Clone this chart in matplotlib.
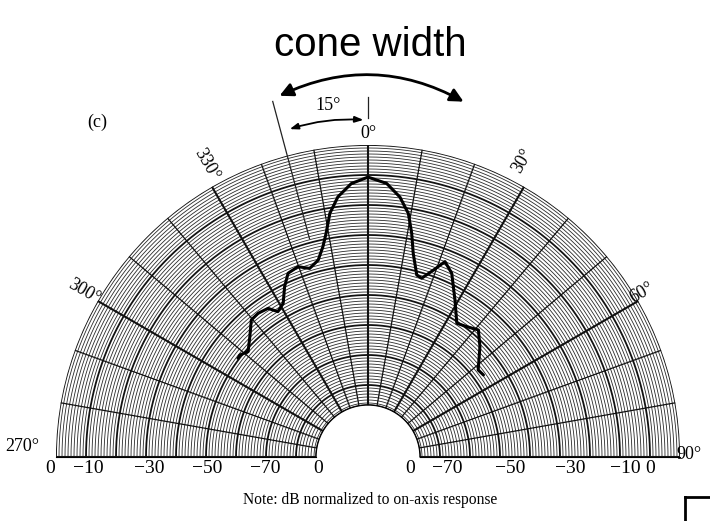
import numpy as np
import matplotlib
matplotlib.use("Agg")
import matplotlib.pyplot as plt
from matplotlib.lines import Line2D
from matplotlib.patches import FancyArrowPatch

# ---------------- data ----------------
# polar response (angle in degrees, level in dB normalized to on-axis)
angle_deg = [-52.8, -51.5, -48.7, -44.5, -40.4, -37.4, -33.9, -31.8, -28.9, -26.1,
             -23.5, -20.2, -17.2, -14.2, -12.1, -10.6, -8.9, -6.6, -3.5, 0.0,
             3.9, 7.0, 9.4, 11.05, 12.5, 15.0, 16.7, 19.3, 21.5, 24.5,
             29.0, 33.6, 37.1, 41.0, 45.4, 51.7, 54.6]
level_db = [-49.6, -49.4, -50.8, -47.8, -44.0, -43.7, -44.3, -47.0, -45.5, -40.8,
            -37.2, -36.4, -38.2, -36.3, -32.3, -28.1, -21.8, -16.7, -12.7, -10.7,
            -12.6, -16.7, -21.7, -28.0, -34.4, -41.2, -41.8, -38.0, -34.0, -36.7,
            -44.2, -50.5, -49.5, -47.9, -51.6, -57.2, -56.8]

angle_tick_labels = ["270°", "300°", "330°", "0°", "30°", "60°", "90°"]
left_db_labels = ["0", "−10", "−30", "−50", "−70", "0"]
right_db_labels = ["0", "−70", "−50", "−30", "−10", "0"]

R_MIN, R_MAX, R_ORIGIN = -86.7, 0.0, -104.0

# ---------------- figure ----------------
W, H = 710, 521
fig = plt.figure(figsize=(W / 100, H / 100), dpi=100)
# square axes box; the half-disc occupies its vertical middle
R_PX, CX, CY = 312, 368, 64          # outer radius & centre (pixels from bottom-left)
side = 2 * R_PX
ax = fig.add_axes([(CX - R_PX) / W, (CY + R_PX / 2 - R_PX) / H, side / W, side / H],
                  projection="polar")
ax.set_theta_zero_location("N")
ax.set_theta_direction(-1)
ax.set_thetamin(-90)
ax.set_thetamax(90)
ax.set_rorigin(R_ORIGIN)
ax.set_ylim(R_MIN, R_MAX)
ax.set_xticks([])
ax.set_yticks([])
ax.grid(False)
for s in ax.spines.values():
    s.set_visible(False)

# concentric circles
th = np.radians(np.linspace(-90, 90, 600))
for r in np.arange(0, -87, -1):
    bold = (r % 10 == 0)
    ax.plot(th, np.full_like(th, r), color="#111111" if bold else "#2a2a2a",
            lw=1.3 if bold else 0.6, zorder=1)
ax.plot(th, np.full_like(th, R_MIN), color="#111111", lw=1.3, zorder=1)

# spokes
for a in range(-90, 91, 10):
    bold = (a % 30 == 0)
    ax.plot([np.radians(a)] * 2, [R_MIN, R_MAX], color="#111111",
            lw=1.5 if bold else 0.9, zorder=2)

# response curve
ax.plot(np.radians(angle_deg), level_db, color="black", lw=2.2, zorder=5,
        solid_capstyle="round", solid_joinstyle="round")

serif = ["Liberation Serif", "DejaVu Serif"]

# angle labels (theta, r, rotation)
lab_pos = [(-88.3, 11.3, 0), (-59.8, 5.5, -30), (-29.0, 7.3, -60), (0.0, 4.0, 0),
           (27.5, 7.3, 60), (59.0, 2.5, 30), (89.6, 3.0, 0)]
for txt, (t, r, rot) in zip(angle_tick_labels, lab_pos):
    ax.text(np.radians(t), r, txt, family=serif, fontsize=13, rotation=rot,
            ha="center", va="center", zorder=6)

# radial dB labels below the baseline
left_r = [2.0, -10.7, -31.0, -50.3, -69.7, -87.3]
right_r = [-90.0, -77.7, -56.7, -36.7, -18.3, -10.0]
for txt, r in zip(left_db_labels, left_r):
    ax.annotate(txt, xy=(np.radians(-90), r), xytext=(0, -2), textcoords="offset points",
                ha="center", va="top", family=serif, fontsize=14, annotation_clip=False)
for txt, r in zip(right_db_labels, right_r):
    ax.annotate(txt, xy=(np.radians(90), r), xytext=(0, -2), textcoords="offset points",
                ha="center", va="top", family=serif, fontsize=14, annotation_clip=False)

# 15 degree annotation
ax.plot([np.radians(-15)] * 2, [-28.7, 18.7], color="#222222", lw=0.9, clip_on=False, zorder=6)
ax.plot([0, 0], [9.0, 16.0], color="#222222", lw=0.9, clip_on=False, zorder=6)
ax.annotate("", xy=(np.radians(-0.3), 8.3), xytext=(np.radians(-13.9), 8.3),
            arrowprops=dict(arrowstyle="<|-|>,head_length=0.5,head_width=0.18",
                            color="black", lw=1.3, connectionstyle="arc3,rad=-0.1"),
            annotation_clip=False)
fig.text(328 / W, 1 - 105 / H, "15°", family=serif, fontsize=13, ha="center", va="center")

# cone width arrow and text
fig.text(370 / W, 1 - 45 / H, "cone width", family=["Liberation Sans", "DejaVu Sans"],
         fontsize=29, ha="center", va="center")
arr = FancyArrowPatch((277 / W, 1 - 97 / H), (466 / W, 1 - 103 / H),
                      transform=fig.transFigure, arrowstyle="<|-|>,head_length=8,head_width=4",
                      connectionstyle="arc3,rad=-0.26", color="black", lw=2)
fig.patches.append(arr)

fig.text(97 / W, 1 - 122 / H, "(c)", family=serif, fontsize=13, ha="center", va="center")
fig.text(370 / W, 1 - 500 / H, "Note: dB normalized to on-axis response",
         family=serif, fontsize=11.2, ha="center", va="center")

# partial frame at bottom right
x0, y0 = 685 / W, 24 / H
fig.add_artist(Line2D([x0, 1.0], [y0, y0], transform=fig.transFigure, color="black", lw=2))
fig.add_artist(Line2D([x0, x0], [0, y0], transform=fig.transFigure, color="black", lw=2))

fig.savefig("out.png", dpi=100)
